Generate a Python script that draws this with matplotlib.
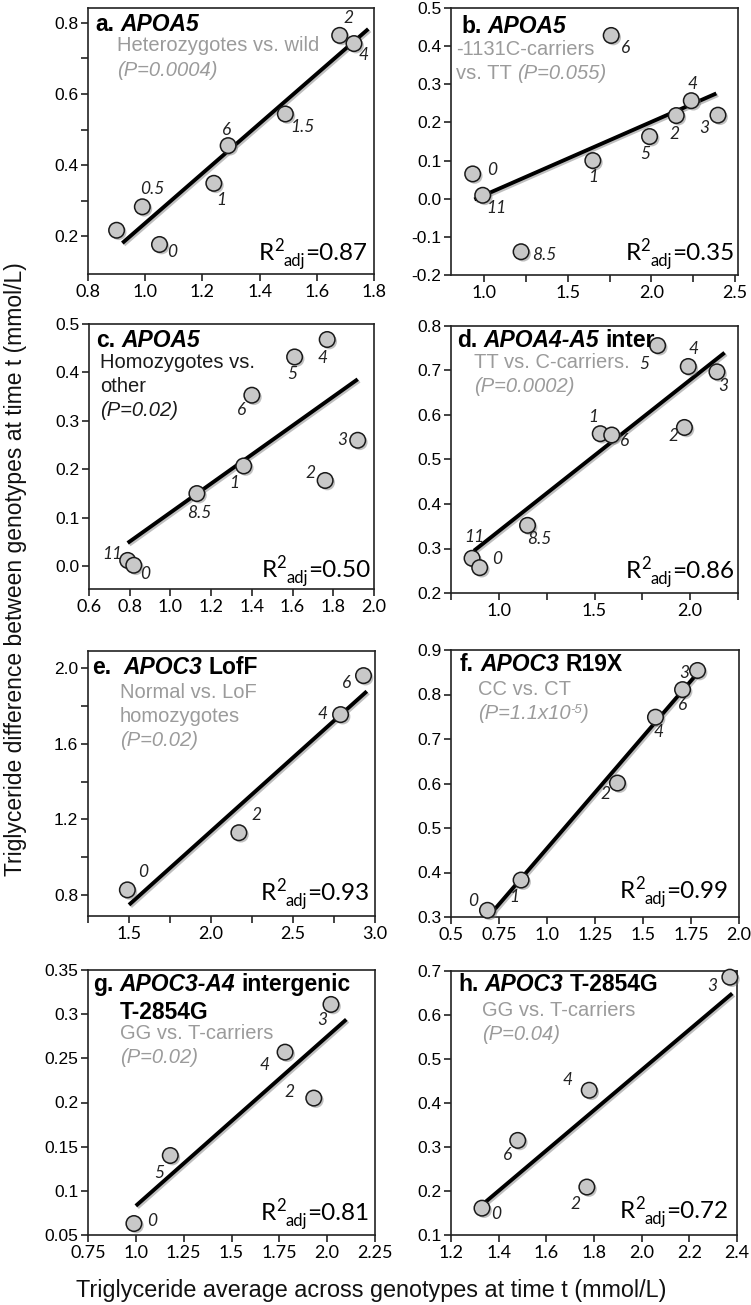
import matplotlib
matplotlib.use("Agg")
import matplotlib.pyplot as plt
from matplotlib.transforms import offset_copy
from matplotlib import patheffects as pe

plt.rcParams['axes.unicode_minus'] = False

# ---------------- data ----------------
a_x = [0.90, 0.99, 1.05, 1.24, 1.29, 1.49, 1.68, 1.73]
a_y = [0.217, 0.283, 0.177, 0.349, 0.455, 0.544, 0.765, 0.742]
a_labels = ['', '0.5', '0', '1', '6', '1.5', '2', '4']
a_fit_x = [0.92, 1.78]
a_fit_y = [0.181, 0.783]

b_x = [0.93, 0.99, 1.22, 1.65, 1.76, 1.99, 2.15, 2.24, 2.40]
b_y = [0.065, 0.009, -0.139, 0.100, 0.428, 0.163, 0.218, 0.257, 0.219]
b_labels = ['0', '11', '8.5', '1', '6', '5', '2', '4', '3']
b_fit_x = [0.94, 2.39]
b_fit_y = [-0.002, 0.276]

c_x = [0.79, 0.82, 1.13, 1.36, 1.40, 1.61, 1.77, 1.76, 1.92]
c_y = [0.012, 0.002, 0.150, 0.207, 0.353, 0.432, 0.468, 0.177, 0.260]
c_labels = ['11', '0', '8.5', '1', '6', '5', '4', '2', '3']
c_fit_x = [0.79, 1.92]
c_fit_y = [0.048, 0.386]

d_x = [0.86, 0.90, 1.15, 1.53, 1.59, 1.83, 1.99, 2.14, 1.97]
d_y = [0.278, 0.257, 0.352, 0.558, 0.555, 0.756, 0.709, 0.697, 0.572]
d_labels = ['11', '0', '8.5', '1', '6', '5', '4', '3', '2']
d_fit_x = [0.87, 2.18]
d_fit_y = [0.295, 0.740]

e_x = [1.49, 2.17, 2.79, 2.93]
e_y = [0.828, 1.13, 1.754, 1.96]
e_labels = ['0', '2', '4', '6']
e_fit_x = [1.50, 2.95]
e_fit_y = [0.749, 1.877]

f_x = [0.69, 0.865, 1.367, 1.565, 1.706, 1.784]
f_y = [0.315, 0.383, 0.601, 0.749, 0.811, 0.854]
f_labels = ['0', '1', '2', '4', '6', '3']
f_fit_x = [0.705, 1.80]
f_fit_y = [0.306, 0.856]

g_x = [0.99, 1.18, 1.78, 1.93, 2.02]
g_y = [0.063, 0.140, 0.257, 0.205, 0.311]
g_labels = ['0', '5', '4', '2', '3']
g_fit_x = [1.00, 2.10]
g_fit_y = [0.083, 0.294]

h_x = [1.33, 1.48, 1.78, 1.77, 2.37]
h_y = [0.161, 0.315, 0.429, 0.209, 0.686]
h_labels = ['0', '6', '4', '2', '3']
h_fit_x = [1.34, 2.38]
h_fit_y = [0.173, 0.649]

r2_values = ['0.87', '0.35', '0.50', '0.86', '0.93', '0.99', '0.81', '0.72']

a_xticks = [0.8, 1.0, 1.2, 1.4, 1.6, 1.8]
a_xticklabels = ['0.8', '1.0', '1.2', '1.4', '1.6', '1.8']
a_yticks = [0.2, 0.3, 0.4, 0.5, 0.6, 0.7, 0.8]
a_yticklabels = ['0.2', '', '0.4', '', '0.6', '', '0.8']

b_xticks = [1.0, 1.25, 1.5, 1.75, 2.0, 2.25, 2.5]
b_xticklabels = ['1.0', '', '1.5', '', '2.0', '', '2.5']
b_yticks = [-0.2, -0.1, 0.0, 0.1, 0.2, 0.3, 0.4, 0.5]
b_yticklabels = ['-0.2', '-0.1', '0.0', '0.1', '0.2', '0.3', '0.4', '0.5']

c_xticks = [0.6, 0.8, 1.0, 1.2, 1.4, 1.6, 1.8, 2.0]
c_xticklabels = ['0.6', '0.8', '1.0', '1.2', '1.4', '1.6', '1.8', '2.0']
c_yticks = [0.0, 0.1, 0.2, 0.3, 0.4, 0.5]
c_yticklabels = ['0.0', '0.1', '0.2', '0.3', '0.4', '0.5']

d_xticks = [0.75, 1.0, 1.25, 1.5, 1.75, 2.0, 2.25]
d_xticklabels = ['', '1.0', '', '1.5', '', '2.0', '']
d_yticks = [0.2, 0.3, 0.4, 0.5, 0.6, 0.7, 0.8]
d_yticklabels = ['0.2', '0.3', '0.4', '0.5', '0.6', '0.7', '0.8']

e_xticks = [1.25, 1.5, 1.75, 2.0, 2.25, 2.5, 2.75, 3.0]
e_xticklabels = ['', '1.5', '', '2.0', '', '2.5', '', '3.0']
e_yticks = [0.8, 1.0, 1.2, 1.4, 1.6, 1.8, 2.0]
e_yticklabels = ['0.8', '', '1.2', '', '1.6', '', '2.0']

f_xticks = [0.5, 0.75, 1.0, 1.25, 1.5, 1.75, 2.0]
f_xticklabels = ['0.5', '0.75', '1.0', '1.25', '1.5', '1.75', '2.0']
f_yticks = [0.3, 0.4, 0.5, 0.6, 0.7, 0.8, 0.9]
f_yticklabels = ['0.3', '0.4', '0.5', '0.6', '0.7', '0.8', '0.9']

g_xticks = [0.75, 1.0, 1.25, 1.5, 1.75, 2.0, 2.25]
g_xticklabels = ['0.75', '1.0', '1.25', '1.5', '1.75', '2.0', '2.25']
g_yticks = [0.05, 0.1, 0.15, 0.2, 0.25, 0.3, 0.35]
g_yticklabels = ['0.05', '0.1', '0.15', '0.2', '0.25', '0.3', '0.35']

h_xticks = [1.2, 1.4, 1.6, 1.8, 2.0, 2.2, 2.4]
h_xticklabels = ['1.2', '1.4', '1.6', '1.8', '2.0', '2.2', '2.4']
h_yticks = [0.1, 0.2, 0.3, 0.4, 0.5, 0.6, 0.7]
h_yticklabels = ['0.1', '0.2', '0.3', '0.4', '0.5', '0.6', '0.7']

y_title = "Triglyceride difference between genotypes at time t (mmol/L)"
x_title = "Triglyceride average across genotypes at time t (mmol/L)"

# ---------------- figure ----------------
W, H, DPI = 751, 1305, 100
fig = plt.figure(figsize=(W / DPI, H / DPI), dpi=DPI)
fig.patch.set_facecolor('white')
R = fig.canvas.get_renderer()

SANS = 'Liberation Sans'
CAL = 'Lato'
B = dict(family=SANS, weight='bold', size=16.5, color='black')
BI = dict(family=SANS, weight='bold', style='italic', size=16.5, color='black')
G = dict(family=SANS, size=14.5, color='#9b9b9b')
GI = dict(G, style='italic')
GS = dict(G, style='italic', size=9.5)
K = dict(family=SANS, size=14.5, color='#1a1a1a')
KI = dict(K, style='italic')
RBIG = dict(family=CAL, size=17.5, color='black')
RSM = dict(family=CAL, size=12, color='black')


def measure(txt, kw):
    t = fig.text(0, 0, txt, **kw)
    w = t.get_window_extent(R).width
    t.remove()
    return w


def seg_info(segs):
    out = []
    for s in segs:
        txt, kw = s[0], s[1]
        sp = measure('a a', kw) - measure('aa', kw)
        lead = len(txt) - len(txt.lstrip(' '))
        trail = len(txt) - len(txt.rstrip(' '))
        core = txt.strip(' ')
        w = measure(core, kw) if core else 0
        out.append((lead * sp, core, w, trail * sp))
    return out


def rich(ax, dx, dy, segs, anchor='tl'):
    info = seg_info(segs)
    total = sum(a + w + c for a, _, w, c in info)
    if anchor == 'tl':
        x, ref, y = dx, (0, 1), -dy
    else:
        x, ref, y = -dx - total, (1, 0), dy
    for s, (lead, core, w, trail) in zip(segs, info):
        rise = s[2] if len(s) > 2 else 0
        x += lead
        tr = offset_copy(ax.transAxes, fig=fig, x=x, y=y + rise, units='dots')
        ax.text(ref[0], ref[1], core, transform=tr, ha='left', va='baseline',
                zorder=6, **s[1])
        x += w + trail


def r2_segs(v):
    return [("R", RBIG), ("2", RSM, 9), ("adj", RSM, -6), ("=" + v, RBIG)]


panels = [
    dict(box=(88, 8, 374, 274), xlim=(0.8, 1.8), ylim=(0.094, 0.842),
         x=a_x, y=a_y, labels=a_labels, fx=a_fit_x, fy=a_fit_y,
         xt=a_xticks, xtl=a_xticklabels, yt=a_yticks, ytl=a_yticklabels,
         off=[None, (10, 18), (13, -8), (7, -17), (-2, 16), (17, -13), (9, 17), (10, -11)],
         title=[(7, 23, [("a. ", B), ("APOA5", BI)])],
         sub=[(29, 43, [("Heterozygotes vs. wild", G)]),
              (29, 68, [("(P=0.0004)", GI)])],
         r2=(7, 14)),
    dict(box=(451, 8, 738, 275), xlim=(0.8, 2.52), ylim=(-0.2, 0.5),
         x=b_x, y=b_y, labels=b_labels, fx=b_fit_x, fy=b_fit_y,
         xt=b_xticks, xtl=b_xticklabels, yt=b_yticks, ytl=b_yticklabels,
         off=[(19, 4), (14, -13), (23, -3), (0, -16), (14, -13), (-4, -17), (-2, -18), (1, 17), (-14, -13)],
         title=[(10, 25, [("b. ", B), ("APOA5", BI)])],
         sub=[(5, 47, [("-1131C-carriers", G)]),
              (5, 71, [("vs. TT ", G), ("(P=0.055)", GI)])],
         r2=(4, 15)),
    dict(box=(89, 324, 374, 589), xlim=(0.6, 2.0), ylim=(-0.047, 0.5),
         x=c_x, y=c_y, labels=c_labels, fx=c_fit_x, fy=c_fit_y,
         xt=c_xticks, xtl=c_xticklabels, yt=c_yticks, ytl=c_yticklabels,
         off=[(-15, 6), (11, -9), (2, -19), (-9, -17), (-10, -15), (-2, -17), (-5, -18), (-15, 7), (-15, 0)],
         title=[(7, 23, [("c. ", B), ("APOA5", BI)])],
         sub=[(11, 44, [("Homozygotes vs.", K)]),
              (11, 68, [("other", K)]),
              (11, 92, [("(P=0.02)", KI)])],
         r2=(4, 12)),
    dict(box=(451, 326, 738, 593), xlim=(0.75, 2.25), ylim=(0.2, 0.8),
         x=d_x, y=d_y, labels=d_labels, fx=d_fit_x, fy=d_fit_y,
         xt=d_xticks, xtl=d_xticklabels, yt=d_yticks, ytl=d_yticklabels,
         off=[(2, 21), (17, 9), (12, -14), (-7, 17), (13, -6), (-13, -18), (5, 17), (6, -14), (-11, -9)],
         title=[(6, 21, [("d. ", B), ("APOA4-A5", BI), (" inter", B)])],
         sub=[(23, 42, [("TT vs. C-carriers.", G)]),
              (23, 66, [("(P=0.0002)", GI)])],
         r2=(4, 15)),
    dict(box=(88, 651, 375, 916), xlim=(1.25, 3.0), ylim=(0.69, 2.09),
         x=e_x, y=e_y, labels=e_labels, fx=e_fit_x, fy=e_fit_y,
         xt=e_xticks, xtl=e_xticklabels, yt=e_yticks, ytl=e_yticklabels,
         off=[(16, 18), (18, 18), (-18, 1), (-17, -7)],
         title=[(4, 23, [("e.  ", B), ("APOC3", BI), (" LofF", B)])],
         sub=[(32, 47, [("Normal vs. LoF", G)]),
              (32, 71, [("homozygotes", G)]),
              (32, 95, [("(P=0.02)", GI)])],
         r2=(6, 16)),
    dict(box=(451, 650, 739, 917), xlim=(0.5, 2.0), ylim=(0.3, 0.9),
         x=f_x, y=f_y, labels=f_labels, fx=f_fit_x, fy=f_fit_y,
         xt=f_xticks, xtl=f_xticklabels, yt=f_yticks, ytl=f_yticklabels,
         off=[(-14, 9), (-7, -17), (-12, -11), (3, -15), (0, -15), (-13, -3)],
         title=[(9, 21, [("f. ", B), ("APOC3", BI), (" R19X", B)])],
         sub=[(27, 45, [("CC vs. CT", G)]),
              (27, 69, [("(P=1.1x10", GI), ("-5", GS, 6), (")", GI)])],
         r2=(11, 19)),
    dict(box=(88, 970, 375, 1235), xlim=(0.75, 2.25), ylim=(0.05, 0.35),
         x=g_x, y=g_y, labels=g_labels, fx=g_fit_x, fy=g_fit_y,
         xt=g_xticks, xtl=g_xticklabels, yt=g_yticks, ytl=g_yticklabels,
         off=[(18, 3), (-11, -17), (-20, -13), (-24, 6), (-9, -16)],
         title=[(5, 21, [("g. ", B), ("APOC3-A4", BI), (" intergenic", B)]),
                (32, 49, [("T-2854G", B)])],
         sub=[(32, 69, [("GG vs. T-carriers", G)]),
              (32, 93, [("(P=0.02)", GI)])],
         r2=(6, 15)),
    dict(box=(451, 971, 737, 1235), xlim=(1.2, 2.4), ylim=(0.1, 0.695),
         x=h_x, y=h_y, labels=h_labels, fx=h_fit_x, fy=h_fit_y,
         xt=h_xticks, xtl=h_xticklabels, yt=h_yticks, ytl=h_yticklabels,
         off=[(14, -6), (-10, -15), (-22, 10), (-11, -17), (-18, -9)],
         title=[(7, 20, [("h. ", B), ("APOC3", BI), (" T-2854G", B)])],
         sub=[(31, 45, [("GG vs. T-carriers", G)]),
              (31, 69, [("(P=0.04)", GI)])],
         r2=(9, 17)),
]

for p, r2v in zip(panels, r2_values):
    l, t, r, b = p['box']
    ax = fig.add_axes([l / W, 1 - b / H, (r - l) / W, (b - t) / H])
    ax.set_xlim(*p['xlim'])
    ax.set_ylim(*p['ylim'])
    for sp in ax.spines.values():
        sp.set_linewidth(1.2)
        sp.set_color('#222222')
    ax.set_xticks(p['xt'])
    ax.set_xticklabels(p['xtl'])
    ax.set_yticks(p['yt'])
    ax.set_yticklabels(p['ytl'])
    ax.tick_params(direction='out', length=5, width=1.2, color='#222222', pad=2)
    for lab in ax.get_xticklabels():
        lab.set_fontfamily(CAL)
        lab.set_fontsize(13)
    for lab in ax.get_yticklabels():
        lab.set_fontfamily(SANS)
        lab.set_fontsize(12.5)

    ax.plot(p['fx'], p['fy'], color='black', lw=2.8, solid_capstyle='butt', zorder=3,
            path_effects=[pe.SimpleLineShadow(offset=(1.2, -1.2), alpha=0.25), pe.Normal()])
    ax.scatter(p['x'], p['y'], s=125, facecolor='#c8c8c8', edgecolor='#1a1a1a',
               linewidth=1.1, zorder=4, clip_on=False,
               path_effects=[pe.SimplePatchShadow(offset=(1.5, -1.5), shadow_rgbFace='#777777',
                                                  alpha=0.45), pe.Normal()])
    for xv, yv, lab, off in zip(p['x'], p['y'], p['labels'], p['off']):
        if not lab or off is None:
            continue
        ax.annotate(lab, (xv, yv), xytext=off, textcoords='offset pixels',
                    ha='center', va='center', fontfamily=CAL, style='italic',
                    fontsize=12.5, color='#222222', zorder=5)
    for dx, dy, segs in p['title']:
        rich(ax, dx, dy, segs)
    for dx, dy, segs in p['sub']:
        rich(ax, dx, dy, segs)
    rich(ax, p['r2'][0], p['r2'][1], r2_segs(r2v), anchor='br')

fig.text(16 / W, 1 - 569 / H, y_title, rotation=90, ha='center', va='center',
         family=SANS, size=16.5, color='#111111')
fig.text(371 / W, 1 - 1290 / H, x_title, ha='center', va='center',
         family=SANS, size=16.8, color='#111111')

fig.savefig('out.png', dpi=DPI)
